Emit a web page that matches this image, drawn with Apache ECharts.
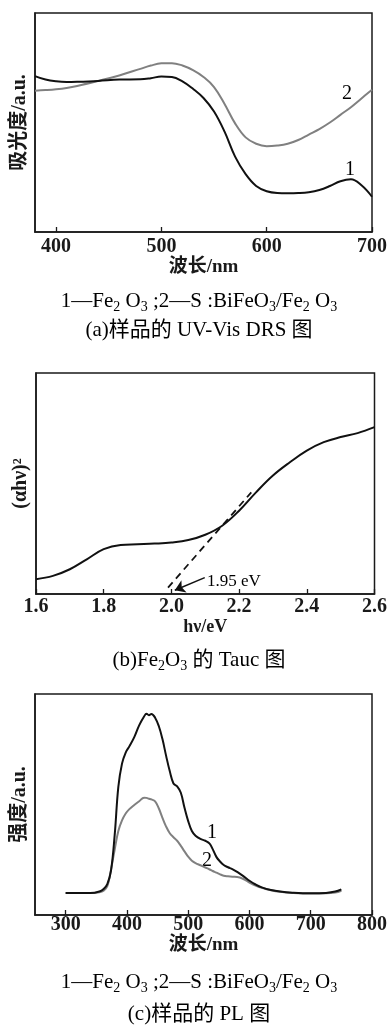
<!DOCTYPE html>
<html>
<head>
<meta charset="utf-8">
<script src="https://cdn.jsdelivr.net/npm/echarts@6/dist/echarts.min.js"></script>
<style>
    html, body { margin: 0; padding: 0; background: #fff; }
    #chart { width: 390px; height: 1028px; }
</style>
</head>
<body>
<div id="chart"></div>
<script>
// (a) UV-Vis DRS
var waveA = [380, 390, 400, 410, 420, 440, 460, 480, 490, 500, 510, 520, 530, 540, 550, 560, 570, 580, 590, 600, 610, 620, 630, 640, 650, 660, 670, 680, 690, 700];
var absFe2O3 = [71.2, 69.6, 68.8, 68.5, 68.6, 69.0, 69.6, 69.7, 70.2, 71.0, 70.8, 68.8, 65.4, 61.2, 55.0, 45.8, 34.4, 26.4, 21.0, 18.6, 17.8, 17.7, 17.8, 18.2, 19.2, 21.0, 23.2, 24.1, 21.3, 16.1];
var absComposite = [64.5, 64.8, 65.2, 65.8, 66.7, 69.0, 71.5, 74.5, 76.0, 77.0, 77.1, 76.0, 73.9, 70.8, 66.2, 58.5, 49.6, 43.2, 40.3, 39.2, 39.5, 40.3, 42.0, 44.5, 47.0, 50.0, 53.5, 57.0, 61.0, 65.0];
var ticksA = [400, 500, 600, 700];

// (b) Tauc
var hv = [1.60, 1.65, 1.70, 1.75, 1.80, 1.85, 1.90, 1.95, 2.00, 2.05, 2.10, 2.15, 2.20, 2.25, 2.30, 2.35, 2.40, 2.45, 2.50, 2.55, 2.60];
var tauc = [6.7, 8.2, 11.2, 15.7, 20.3, 22.2, 22.5, 22.8, 23.3, 24.4, 26.8, 30.9, 37.7, 46.0, 53.6, 59.6, 64.9, 68.7, 71.0, 72.8, 75.5];
var tangentHv = [1.99, 2.236];
var tangentY = [2.9, 46.0];
var arrowHv = [2.0985, 2.01];
var arrowY = [7.4, 1.7];

// (c) PL
var wavePL = [300, 340, 355, 362, 368, 374, 380, 386, 392, 398, 404, 412, 420, 428, 432, 436, 440, 446, 452, 458, 464, 470, 476, 482, 488, 494, 500, 506, 512, 520, 528, 535, 540, 546, 552, 558, 565, 572, 580, 590, 600, 610, 620, 635, 650, 670, 700, 725, 740, 750];
var plFe2O3 = [9.9, 9.9, 10.6, 11.8, 14.0, 20.0, 36.0, 58.0, 68.5, 73.5, 76.3, 80.5, 85.8, 89.8, 91.1, 90.4, 91.0, 89.3, 85.5, 79.6, 72.0, 65.0, 59.5, 58.2, 55.3, 48.5, 42.5, 38.0, 35.9, 34.4, 33.6, 32.3, 29.8, 26.3, 24.2, 22.6, 21.6, 20.8, 19.5, 17.6, 15.5, 13.8, 12.5, 11.3, 10.6, 10.1, 9.8, 10.0, 10.6, 11.6];
var plComposite = [9.9, 9.9, 10.3, 11.0, 13.0, 20.5, 29.5, 38.0, 42.8, 45.9, 47.9, 49.8, 51.5, 53.1, 53.0, 52.6, 52.3, 51.4, 48.3, 44.0, 40.0, 37.0, 35.2, 33.6, 31.3, 28.8, 26.4, 24.6, 23.5, 22.5, 21.5, 20.6, 19.9, 19.2, 18.4, 17.8, 17.5, 17.3, 17.2, 16.3, 14.7, 13.3, 12.3, 11.2, 10.5, 10.0, 9.7, 9.8, 10.2, 11.0];
var ticksPL = [300, 400, 500, 600, 700, 800];

var serif = 'Liberation Serif, Noto Sans CJK SC';
var ink = '#1a1a1a';

function pairs(xs, ys) {
    return xs.map(function (x, i) { return [x, ys[i]]; });
}

function xAxisOf(grid, min, max, name, gap, margin, ticks) {
    var ax = {
        type: 'value', gridIndex: grid, min: min, max: max,
        name: name, nameLocation: 'middle', nameGap: gap,
        nameTextStyle: { fontFamily: serif, fontWeight: 'bold', fontSize: 19, color: ink },
        axisLine: { show: true, lineStyle: { color: ink, width: 1.5 } },
        axisTick: { inside: true, length: 5, lineStyle: { color: ink, width: 1.3 } },
        axisLabel: { margin: margin, fontFamily: serif, fontWeight: 'bold', fontSize: 20, color: ink },
        splitLine: { show: false }
    };
    if (ticks) {
        ax.axisTick.customValues = ticks;
        ax.axisLabel.customValues = ticks;
    }
    return ax;
}

function yAxisOf(grid, name) {
    return {
        type: 'value', gridIndex: grid, min: 0, max: 100,
        name: name, nameLocation: 'middle', nameGap: 5,
        nameTextStyle: { fontFamily: serif, fontWeight: 'bold', fontSize: 20, color: ink },
        axisLine: { show: true, lineStyle: { color: ink, width: 1.5 } },
        axisTick: { show: false }, axisLabel: { show: false }, splitLine: { show: false }
    };
}

function curve(x, y, data, color) {
    return {
        type: 'line', xAxisIndex: x, yAxisIndex: y, data: data, smooth: 0.4,
        showSymbol: false, silent: true, lineStyle: { color: color, width: 2 }
    };
}

function caption(y, text) {
    return {
        type: 'text', x: 199, y: y, silent: true,
        style: {
            text: text, align: 'center', verticalAlign: 'middle',
            rich: {
                t: { fontFamily: serif, fontSize: 21, color: ink, lineHeight: 26, verticalAlign: 'middle' },
                s: { fontFamily: serif, fontSize: 14, color: ink, lineHeight: 26, verticalAlign: 'bottom' }
            }
        }
    };
}

function mark(x, y, text, size) {
    return {
        type: 'text', x: x, y: y, silent: true,
        style: { text: text, fontFamily: serif, fontSize: size, color: ink, align: 'center', verticalAlign: 'middle' }
    };
}

var legendText = '{t|1—Fe}{s|2}{t| O}{s|3}{t| ;2—S :BiFeO}{s|3}{t|/Fe}{s|2}{t| O}{s|3}';

var myChart = echarts.init(document.getElementById('chart'));
var option = {
    animation: false,
    grid: [
        { left: 35, top: 13, width: 338, height: 219, show: true, borderColor: ink, borderWidth: 1.5 },
        { left: 36, top: 373, width: 339, height: 221, show: true, borderColor: ink, borderWidth: 1.5 },
        { left: 35, top: 694, width: 337, height: 221, show: true, borderColor: ink, borderWidth: 1.5 }
    ],
    xAxis: [
        xAxisOf(0, 380, 700, '波长/nm', 21, 5, ticksA),
        (function () {
            var ax = xAxisOf(1, 1.6, 2.6, 'hν/eV', 17, 3, null);
            ax.interval = 0.2;
            ax.axisLabel.formatter = function (v) { return v.toFixed(1); };
            ax.nameTextStyle.fontSize = 18;
            return ax;
        })(),
        xAxisOf(2, 250, 800, '波长/nm', 20, 0, ticksPL)
    ],
    yAxis: [
        yAxisOf(0, '吸光度/a.u.'),
        yAxisOf(1, '(αhν)²'),
        yAxisOf(2, '强度/a.u.')
    ],
    series: [
        curve(0, 0, pairs(waveA, absComposite), '#808080'),
        curve(0, 0, pairs(waveA, absFe2O3), '#111'),
        curve(1, 1, pairs(hv, tauc), '#111'),
        {
            type: 'line', xAxisIndex: 1, yAxisIndex: 1, data: pairs(tangentHv, tangentY),
            showSymbol: false, silent: true,
            lineStyle: { color: '#111', width: 1.8, type: [7, 5] },
            markLine: {
                silent: true, symbol: ['none', 'arrow'], symbolSize: 10,
                label: { show: false },
                lineStyle: { color: '#111', width: 1.5, type: 'solid' },
                data: [[{ coord: [arrowHv[0], arrowY[0]] }, { coord: [arrowHv[1], arrowY[1]] }]]
            }
        },
        curve(2, 2, pairs(wavePL, plComposite), '#808080'),
        curve(2, 2, pairs(wavePL, plFe2O3), '#111')
    ],
    graphic: [
        mark(347, 94, '2', 20),
        mark(350, 170, '1', 20),
        {
            type: 'text', x: 207, y: 582, silent: true,
            style: { text: '1.95 eV', fontFamily: serif, fontSize: 17, color: ink, align: 'left', verticalAlign: 'middle' }
        },
        mark(212, 833, '1', 20),
        mark(207, 861, '2', 20),
        caption(301, legendText),
        caption(330, '{t|(a)样品的 UV-Vis DRS 图}'),
        caption(660, '{t|(b)Fe}{s|2}{t|O}{s|3}{t| 的 Tauc 图}'),
        caption(982, legendText),
        caption(1014, '{t|(c)样品的 PL 图}')
    ]
};
myChart.setOption(option);
</script>
</body>
</html>
